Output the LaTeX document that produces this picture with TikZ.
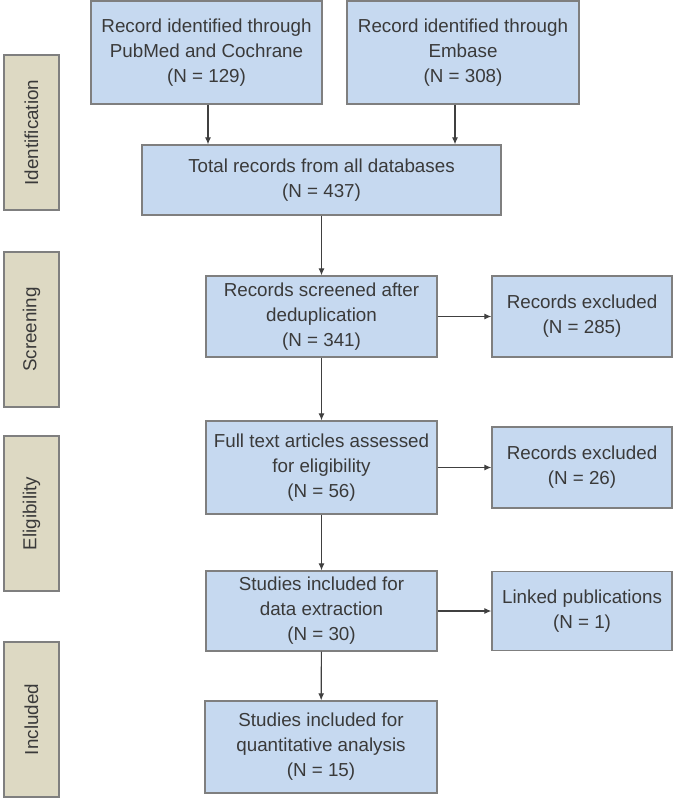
\documentclass[tikz,border=0pt]{standalone}
\usepackage{fontspec}
\setmainfont{Liberation Sans}
\usetikzlibrary{arrows.meta}
\definecolor{boxfill}{HTML}{C6D9F0}
\definecolor{boxline}{HTML}{7F7F7F}
\definecolor{stagefill}{HTML}{DDD9C3}
\definecolor{txt}{HTML}{3A3A3A}
\definecolor{arr}{HTML}{404040}
\begin{document}
\begin{tikzpicture}[x=1pt,y=-1pt,
  box/.style={draw=boxline, fill=boxfill, line width=1.3pt, align=center, inner sep=0pt,
    text=txt, font=\fontsize{18.8}{25}\selectfont},
  stage/.style={draw=boxline, fill=stagefill, line width=1.3pt, inner sep=0pt, rotate=90,
    minimum width=155pt, minimum height=55pt, text=txt, font=\fontsize{18.8}{25}\selectfont},
  flow/.style={draw=arr, line width=1.1pt, -{Latex[length=7pt,width=6pt]}}]
\useasboundingbox (0,0) rectangle (675,800);
% stage labels
\node[stage] (ident) at (31.5,132.5) {Identification};
\node[stage] (screen) at (31.5,329.5) {Screening};
\node[stage] (elig) at (31.5,513.5) {Eligibility};
\node[stage] (incl) at (31.5,719.5) {Included};
% boxes
\node[box, minimum width=231pt, minimum height=103pt] (pub) at (206.5,52.5)
  {Record identified through\\PubMed and Cochrane\\(N = 129)};
\node[box, minimum width=232pt, minimum height=103pt] (emb) at (463,52.5)
  {Record identified through\\Embase\\(N = 308)};
\node[box, minimum width=359pt, minimum height=70pt] (total) at (321.5,180)
  {Total records from all databases\\(N = 437)};
\node[box, minimum width=231pt, minimum height=81pt] (scr) at (321.5,316.5)
  {Records screened after\\deduplication\\(N = 341)};
\node[box, minimum width=180pt, minimum height=81pt] (exc1) at (582,316.5)
  {Records excluded\\(N = 285)};
\node[box, minimum width=231pt, minimum height=93pt] (full) at (321.5,467.5)
  {Full text articles assessed\\for eligibility\\(N = 56)};
\node[box, minimum width=180pt, minimum height=81pt] (exc2) at (582,467.5)
  {Records excluded\\(N = 26)};
\node[box, minimum width=231pt, minimum height=80pt] (data) at (321.5,611)
  {Studies included for\\data extraction\\(N = 30)};
\node[box, minimum width=180pt, minimum height=79pt] (link) at (582,611)
  {Linked publications\\(N = 1)};
\node[box, minimum width=232pt, minimum height=92pt] (quant) at (321,747)
  {Studies included for\\quantitative analysis\\(N = 15)};
% connectors
\draw[flow] ([xshift=1.5pt]pub.south) -- ([xshift=1.5pt]pub.south |- total.north);
\draw[flow] ([xshift=-8pt]emb.south) -- ([xshift=-8pt]emb.south |- total.north);
\draw[flow] (total) -- (scr);
\draw[flow] (scr) -- (exc1);
\draw[flow] (scr) -- (full);
\draw[flow] (full) -- (exc2);
\draw[flow] (full) -- (data);
\draw[flow] (data) -- (link);
\draw[flow] (data) -- (quant);
\end{tikzpicture}
\end{document}
